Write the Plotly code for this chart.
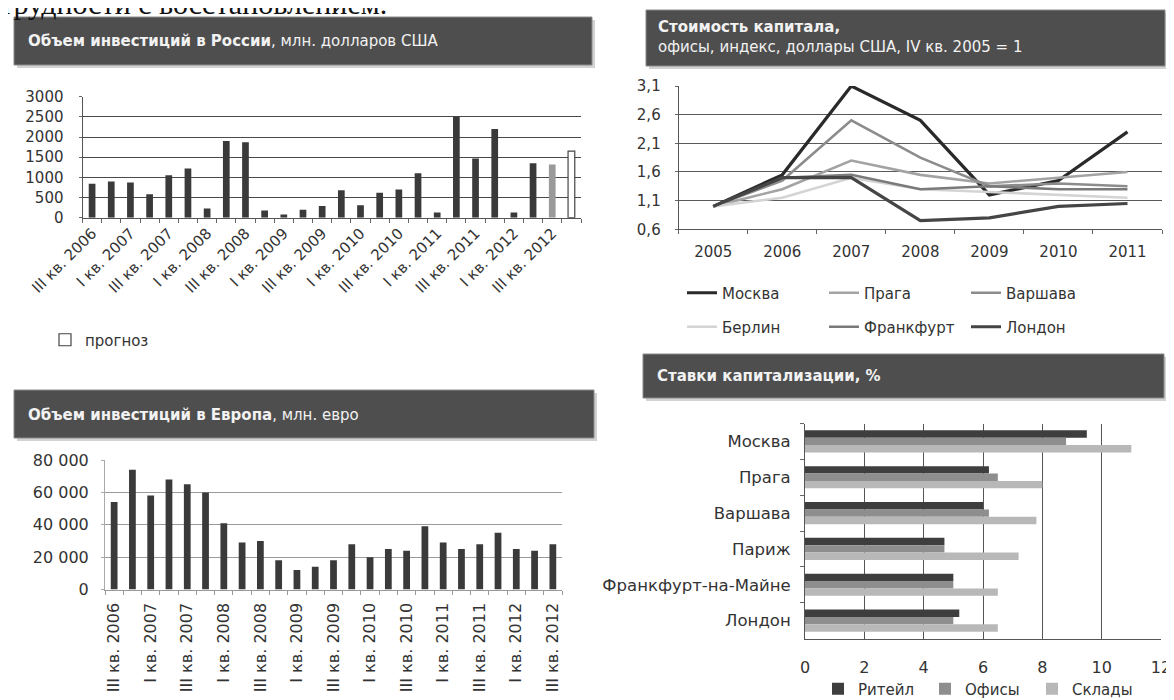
import plotly.graph_objects as go

# The page body has an 8px margin, so the figure is drawn 8px in from the window edge.
OFF = 8
W, H = 1174 - OFF, 700 - OFF
def px(x): return (x - OFF) / W
def py(y): return 1 - (y - OFF) / H

# ---------------- DATA ----------------
ru_quarters = ["III кв. 2006", "IV кв. 2006", "I кв. 2007", "II кв. 2007", "III кв. 2007", "IV кв. 2007",
               "I кв. 2008", "II кв. 2008", "III кв. 2008", "IV кв. 2008", "I кв. 2009", "II кв. 2009",
               "III кв. 2009", "IV кв. 2009", "I кв. 2010", "II кв. 2010", "III кв. 2010", "IV кв. 2010",
               "I кв. 2011", "II кв. 2011", "III кв. 2011", "IV кв. 2011", "I кв. 2012", "II кв. 2012",
               "III кв. 2012"]
ru_values = [840, 900, 870, 580, 1050, 1220, 230, 1900, 1870, 180, 80, 200, 290, 680, 310, 620, 700,
             1100, 130, 2510, 1470, 2200, 130, 1350, 1320]
ru_forecast_quarter = ["IV кв. 2012"]
ru_forecast_value = [1650]

eu_quarters = ru_quarters
eu_values = [54000, 74000, 58000, 68000, 65000, 60000, 41000, 29000, 30000, 18000, 12000, 14000,
             18000, 28000, 20000, 25000, 24000, 39000, 29000, 25000, 28000, 35000, 25000, 24000, 28000]

years = ["2005", "2006", "2007", "2008", "2009", "2010", "2011"]
moscow = [1.0, 1.55, 3.1, 2.5, 1.2, 1.45, 2.3]
prague = [1.0, 1.3, 1.8, 1.55, 1.4, 1.5, 1.6]
warsaw = [1.0, 1.45, 2.5, 1.85, 1.35, 1.4, 1.35]
berlin = [1.0, 1.15, 1.5, 1.3, 1.25, 1.2, 1.15]
frankfurt = [1.0, 1.5, 1.55, 1.3, 1.35, 1.3, 1.3]
london = [1.0, 1.5, 1.5, 0.75, 0.8, 1.0, 1.05]

cities = ["Москва", "Прага", "Варшава", "Париж", "Франкфурт-на-Майне", "Лондон"]
retail = [9.5, 6.2, 6.0, 4.7, 5.0, 5.2]
offices = [8.8, 6.5, 6.2, 4.7, 5.0, 5.0]
warehouses = [11.0, 8.0, 7.8, 7.2, 6.5, 6.5]

FONT = "DejaVu Sans, Verdana, sans-serif"
TXT = "#333333"

def f(size, color=TXT):
    return dict(family=FONT, size=size, color=color)

fig = go.Figure()

# ---------- top-left: Russia ----------
all_ru = ru_quarters + ru_forecast_quarter
ru_colors = ["#3a3a3a"] * (len(ru_values) - 1) + ["#9a9a9a"]
fig.add_trace(go.Bar(x=ru_quarters, y=ru_values, marker=dict(color=ru_colors, line=dict(width=0)),
                     width=0.35, offsetgroup="ru", showlegend=False, xaxis="x", yaxis="y"))
fig.add_trace(go.Bar(x=ru_forecast_quarter, y=ru_forecast_value, name="прогноз",
                     marker=dict(color="white", line=dict(color="#444444", width=1.2)),
                     width=0.35, offsetgroup="ru", legend="legend4", xaxis="x", yaxis="y"))

# ---------- bottom-left: Europe ----------
fig.add_trace(go.Bar(x=eu_quarters, y=eu_values, marker=dict(color="#3a3a3a", line=dict(width=0)),
                     width=0.37, offsetgroup="eu", showlegend=False, xaxis="x2", yaxis="y2"))

# ---------- top-right: lines ----------
line_series = [("Москва", moscow, "#2a2a2a", 3.2, "legend"),
               ("Прага", prague, "#a3a3a3", 2.6, "legend"),
               ("Варшава", warsaw, "#8c8c8c", 2.6, "legend"),
               ("Берлин", berlin, "#d4d4d4", 2.6, "legend2"),
               ("Франкфурт", frankfurt, "#7a7a7a", 2.6, "legend2"),
               ("Лондон", london, "#454545", 3.2, "legend2")]
for name, vals, col, w, lg in line_series:
    fig.add_trace(go.Scatter(x=years, y=vals, name=name, mode="lines",
                             line=dict(color=col, width=w), legend=lg, xaxis="x3", yaxis="y3"))

# ---------- bottom-right: horizontal bars ----------
for name, vals, col in [("Ритейл", retail, "#3e3e3e"), ("Офисы", offices, "#8e8e8e"),
                        ("Склады", warehouses, "#b8b8b8")]:
    fig.add_trace(go.Bar(y=cities, x=vals, name=name, orientation="h",
                         marker=dict(color=col, line=dict(width=0)),
                         legend="legend3", xaxis="x4", yaxis="y4"))

# ---------- header boxes ----------
shapes = []
annotations = []
def header(x0, y0, x1, y1, text, tx, ty):
    shapes.append(dict(type="rect", xref="paper", yref="paper", x0=px(x0 + 3), x1=px(x1 + 3),
                       y0=py(y1 + 3), y1=py(y0 + 3), fillcolor="#d2d2d2", line=dict(width=0), layer="below"))
    shapes.append(dict(type="rect", xref="paper", yref="paper", x0=px(x0), x1=px(x1),
                       y0=py(y1), y1=py(y0), fillcolor="#4e4e4e", line=dict(color="#8a8a8a", width=1),
                       layer="below"))
    annotations.append(dict(text=text, xref="paper", yref="paper", x=px(tx), y=py(ty), xanchor="left",
                            yanchor="middle", showarrow=False, align="left", font=f(15, "#f2f2f2")))

header(14, 17, 592, 65, "<b>Объем инвестиций в России</b>, млн. долларов США", 26, 41)
header(14, 390, 594, 438, "<b>Объем инвестиций в Европа</b>, млн. евро", 26, 415)
header(646, 10, 1165, 66, "<b>Стоимость капитала,</b><br>офисы, индекс, доллары США, IV кв. 2005 = 1", 656, 37)
header(643, 354, 1164, 398, "<b>Ставки капитализации, %</b>", 655, 376)

annotations.append(dict(text="трудности с восстановлением.", xref="paper", yref="paper", x=px(-2), y=py(4),
                        xanchor="left", yanchor="middle", showarrow=False,
                        font=dict(family="Liberation Serif, Times New Roman, serif", size=30, color="#111111")))

common = dict(automargin=False)

fig.update_layout(
    template="none",
    width=W, height=H, margin=dict(l=0, r=0, t=0, b=0, autoexpand=False),
    paper_bgcolor="white", plot_bgcolor="white",
    separators=", ", barmode="group", bargap=0.38, bargroupgap=0,
    font=f(14),
    shapes=shapes, annotations=annotations,
    # top-left
    xaxis=dict(domain=[px(82.5), px(581)], anchor="y", type="category", categoryorder="array",
               categoryarray=all_ru, tickmode="array", tickvals=all_ru,
               ticktext=[q if i % 2 == 0 else "" for i, q in enumerate(all_ru)],
               tickangle=-45, ticks="outside", tickson="boundaries", ticklen=4, tickcolor="#666",
               showline=True, linecolor="#555", linewidth=1, showgrid=False, tickfont=f(15), **common),
    yaxis=dict(domain=[py(217.7), py(96.7)], anchor="x", range=[0, 3000], dtick=500, tickformat="d",
               showgrid=True, gridcolor="#4a4a4a", gridwidth=1, showline=True, linecolor="#555",
               ticks="outside", ticklen=3, tickcolor="#666", tickfont=f(15), ticklabelstandoff=12,
               zeroline=False, **common),
    # bottom-left
    xaxis2=dict(domain=[px(105), px(562)], anchor="y2", type="category", categoryorder="array",
                categoryarray=eu_quarters, tickmode="array", tickvals=eu_quarters,
                ticktext=[q if i % 2 == 0 else "" for i, q in enumerate(eu_quarters)],
                tickangle=-90, ticks="outside", tickson="boundaries", ticklen=4, tickcolor="#999",
                showline=True, linecolor="#999", showgrid=False, tickfont=f(16), ticklabelstandoff=6,
                **common),
    yaxis2=dict(domain=[py(589.5), py(460)], anchor="x2", range=[0, 80000], dtick=20000, tickformat=",d",
                showgrid=True, gridcolor="#9a9a9a", showline=True, linecolor="#aaa",
                ticks="outside", ticklen=3, tickcolor="#aaa", tickfont=f(16), ticklabelstandoff=9,
                zeroline=False, **common),
    # top-right line chart
    xaxis3=dict(domain=[px(678.7), px(1162)], anchor="y3", type="category", range=[-0.5, 6.5],
                ticks="outside", tickson="boundaries", ticklen=4, tickcolor="#666", showline=True,
                linecolor="#555", showgrid=False, tickfont=f(15), ticklabelstandoff=9, **common),
    yaxis3=dict(domain=[py(229.3), py(86)], anchor="x3", range=[0.6, 3.1], tick0=0.6, dtick=0.5,
                tickformat=".1f", showgrid=True, gridcolor="#5a5a5a", showline=True, linecolor="#555",
                ticks="outside", ticklen=3, tickcolor="#666", tickfont=f(15), ticklabelstandoff=11,
                zeroline=False, **common),
    # bottom-right bar chart
    xaxis4=dict(domain=[px(805), px(1161)], anchor="y4", range=[0, 12], dtick=2, showgrid=True,
                gridcolor="#555", showline=True, linecolor="#555", ticks="", zeroline=False,
                tickfont=f(16), ticklabelstandoff=14, **common),
    yaxis4=dict(domain=[py(638.5), py(423.5)], anchor="x4", type="category", autorange="reversed",
                ticks="outside", tickson="boundaries", ticklen=4, tickcolor="#666", showline=True,
                linecolor="#555", showgrid=False, tickfont=f(16.5), ticklabelstandoff=10, **common),
    legend=dict(x=px(682), y=py(293), xanchor="left", yanchor="middle", orientation="h",
                entrywidth=97, font=f(15), bgcolor="rgba(0,0,0,0)"),
    legend2=dict(x=px(682), y=py(327), xanchor="left", yanchor="middle", orientation="h",
                 entrywidth=97, font=f(15), bgcolor="rgba(0,0,0,0)"),
    legend3=dict(x=px(818), y=py(689), xanchor="left", yanchor="middle", orientation="h",
                 entrywidth=62, font=f(15), bgcolor="rgba(0,0,0,0)", itemwidth=30),
    legend4=dict(x=px(45), y=py(340), xanchor="left", yanchor="middle", orientation="h",
                 font=f(15), bgcolor="rgba(0,0,0,0)"),
)

fig.write_html("out.html")
